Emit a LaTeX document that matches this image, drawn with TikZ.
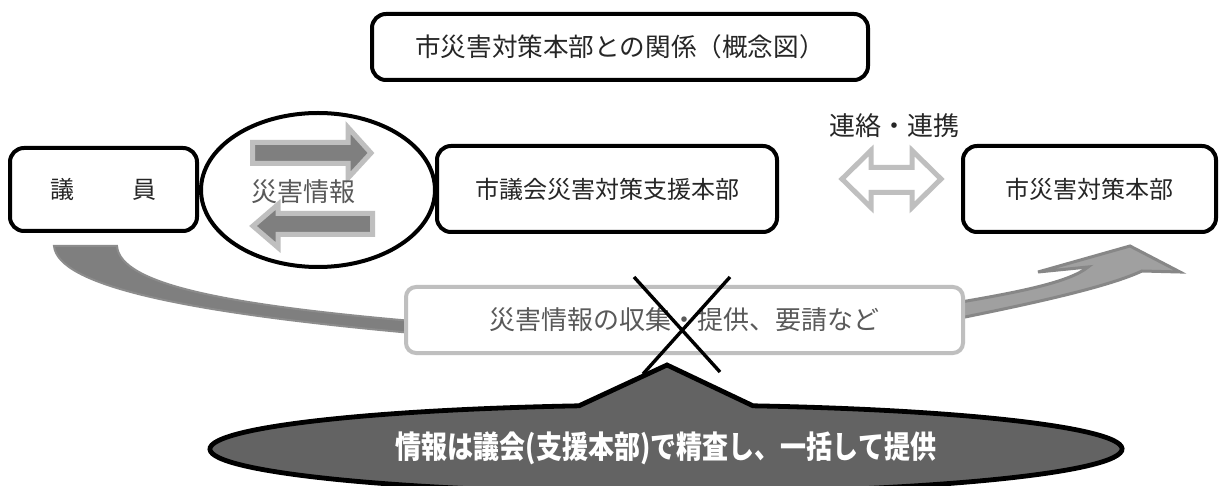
\documentclass[tikz,border=0pt]{standalone}
\usepackage{fontspec}
\usepackage{graphicx}
\setmainfont{Noto Sans CJK JP}
\newfontfamily\jp{Noto Sans CJK JP}
\usetikzlibrary{shapes.geometric,calc}
\definecolor{darkarrow}{HTML}{7F7F7F}
\definecolor{bandedge}{HTML}{8C8C8C}
\definecolor{lightedge}{HTML}{BFBFBF}
\definecolor{rightfill}{HTML}{A0A0A0}
\definecolor{rightedge}{HTML}{878787}
\definecolor{callfill}{HTML}{636363}
\definecolor{txt}{HTML}{262626}
\definecolor{graytxt}{HTML}{595959}
\tikzset{
  box/.style={draw=black, line width=2pt, rounded corners=7pt, fill=white, inner sep=0pt, text=txt},
  lowerbox/.style={draw=lightedge, line width=2pt, rounded corners=5pt, fill=white, inner sep=0pt, text=graytxt},
  hollow/.style={draw=lightedge, line width=2.5pt, fill=white, line join=miter},
  infoarrow/.style={draw=lightedge, line width=2.5pt, fill=darkarrow, line join=miter},
  xline/.style={draw=black, line width=1.7pt},
  callout/.style={fill=callfill, draw=black, line width=2.4pt, line join=miter},
  fs/.style={font=\jp\fontsize{#1}{#1}\selectfont}
}
\begin{document}
\begin{tikzpicture}[x=0.5pt,y=-0.5pt]
\useasboundingbox[fill=white] (0,0) rectangle (1226,486);

% title
\node[box, fs=12.8pt, minimum width=248pt, minimum height=33pt] (title) at (620,47) {市災害対策本部との関係（概念図）};

% left curved band
\path[fill=darkarrow, draw=bandedge, line width=1pt]
  (54,246) -- (117,246) .. controls (120,285) and (230,305) .. (412,321)
  -- (412,333) .. controls (180,312) and (58,285) .. (54,246) -- cycle;

% right curved arrow
\path[fill=rightfill, draw=rightedge, line width=1.5pt, line join=miter]
  (955,303) .. controls (1020,292) and (1070,282) .. (1088,267)
  -- (1038,272) -- (1130,246) -- (1180,272) -- (1142,271)
  .. controls (1110,286) and (1040,302) .. (955,319) -- cycle;

% boxes
\node[box, fs=12pt, minimum width=93.5pt, minimum height=41.5pt] (giin) at (103.5,189.5) {議\hspace{29pt}員};
\node[draw=black, line width=2pt, ellipse, fill=white, minimum width=117pt, minimum height=77pt, inner sep=0pt] (circ) at (318,190) {};
\node[box, fs=12pt, minimum width=170pt, minimum height=43pt] (support) at (607,189) {市議会災害対策支援本部};
\node[box, fs=12pt, minimum width=126.5pt, minimum height=43pt] (city) at (1089.5,189) {市災害対策本部};

% arrows inside ellipse
\path[infoarrow] (252.5,142.5) -- (348,142.5) -- (348,127.5) -- (371,153) -- (348,178) -- (348,163.5) -- (252.5,163.5) -- cycle;
\path[infoarrow] (372.5,213.5) -- (278,213.5) -- (278,204.5) -- (253,226) -- (278,247.5) -- (278,234.5) -- (372.5,234.5) -- cycle;
\node[fs=13pt, text=graytxt, inner sep=0pt] (info) at (303,192) {災害情報};

% double hollow arrow
\path[hollow] (842,179) -- (871,150.5) -- (871,167.5) -- (912,167.5) -- (912,150.5) -- (941,179) -- (912,207.5) -- (912,192.5) -- (871,192.5) -- (871,207.5) -- cycle;
\node[fs=13pt, text=txt, inner sep=0pt] (link) at (894,126) {連絡・連携};

% lower box
\node[lowerbox, fs=13pt, minimum width=278.5pt, minimum height=33pt] (req) at (684.5,320) {災害情報の収集・提供、要請など};

% cross
\draw[xline] (634,277) -- (720,372);
\draw[xline] (730,277) -- (643,374);

% callout
\coordinate (cc) at (666,449);
\path[callout] ($(cc)+(-101:456 and 44)$) -- (667,365) -- ($(cc)+(-79:456 and 44)$)
  arc[start angle=-79, end angle=259, x radius=456, y radius=44] -- cycle;
\node[text=white, inner sep=0pt, font=\jp\bfseries\fontsize{13pt}{13pt}\selectfont] (note) at (666,448) {\scalebox{1}[1.2]{情報は議会(支援本部)で精査し、一括して提供}};
\end{tikzpicture}
\end{document}
